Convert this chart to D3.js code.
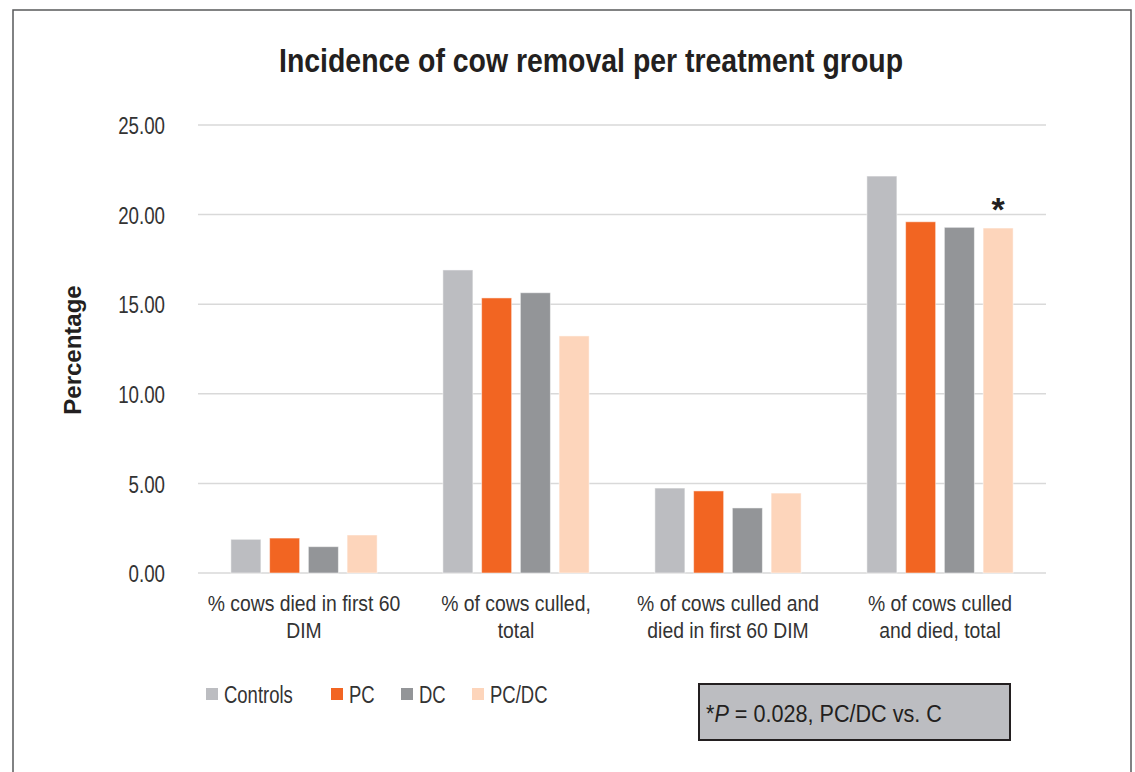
<!DOCTYPE html>
<html><head><meta charset="utf-8">
<script src="https://cdn.jsdelivr.net/npm/d3@7"></script>
<style>
body{margin:0;background:#fff;}
text{font-family:"Liberation Sans",Arial,sans-serif;}
</style></head>
<body>
<svg id="chart" width="1135" height="772"></svg>
<script>
const categories = [
  ["% cows died in first 60", "DIM"],
  ["% of cows culled,", "total"],
  ["% of cows culled and", "died in first 60 DIM"],
  ["% of cows culled", "and died, total"]
];
const seriesNames = ["Controls", "PC", "DC", "PC/DC"];
const controls = [1.88, 16.91, 4.74, 22.15];
const pc = [1.95, 15.35, 4.58, 19.60];
const dc = [1.47, 15.64, 3.63, 19.29];
const pcdc = [2.12, 13.23, 4.46, 19.25];
const yTicks = [0, 5, 10, 15, 20, 25];
const colors = ["#bcbdc1", "#f26522", "#939598", "#fdd5bb"];
const seriesValues = [controls, pc, dc, pcdc];

const svg = d3.select("#chart");
const mLeft = 198, mRight = 1046, mTop = 125, mBottom = 573;

// frame
svg.append("rect").attr("x", 13).attr("y", 10).attr("width", 1118).attr("height", 800)
  .attr("fill", "none").attr("stroke", "#58595b").attr("stroke-width", 1.5);

const x0 = d3.scaleBand().domain(d3.range(categories.length)).range([mLeft, mRight]).paddingInner(0.31).paddingOuter(0.155);
const x1 = d3.scaleBand().domain(d3.range(seriesNames.length)).range([0, x0.bandwidth()]).paddingInner(0.225);
const y = d3.scaleLinear().domain([0, 25]).range([mBottom, mTop]);

// gridlines
svg.append("g").selectAll("line").data(yTicks).join("line")
  .attr("x1", mLeft).attr("x2", mRight)
  .attr("y1", d => y(d)).attr("y2", d => y(d))
  .attr("stroke", "#d9d9d9").attr("stroke-width", 1.5);

// y axis labels
const yAxis = d3.axisLeft(y).tickValues(yTicks).tickFormat(d3.format(".2f")).tickSize(0).tickPadding(0);
const ya = svg.append("g").attr("transform", `translate(165,0)`).call(yAxis);
ya.select(".domain").remove();
ya.selectAll("text").attr("font-size", 24).attr("fill", "#333").attr("font-family", null)
  .attr("dy", "0.36em").attr("transform", "scale(0.78,1)");

// bars
const groups = svg.append("g").selectAll("g").data(categories.map((c, i) => i)).join("g")
  .attr("transform", i => `translate(${x0(i)},0)`);
groups.selectAll("rect").data(i => seriesValues.map((s, j) => ({j, v: s[i]}))).join("rect")
  .attr("x", d => x1(d.j)).attr("width", x1.bandwidth())
  .attr("y", d => y(d.v)).attr("height", d => y(0) - y(d.v))
  .attr("fill", d => colors[d.j]).attr("stroke", "#fff").attr("stroke-opacity", 0.5).attr("stroke-width", 1);

// x axis labels
const xl = svg.append("g").selectAll("text").data(categories).join("text")
  .attr("transform", (d, i) => `translate(${x0(i) + x0.bandwidth() / 2},611) scale(0.88,1)`)
  .attr("text-anchor", "middle").attr("font-size", 22).attr("fill", "#333");
xl.selectAll("tspan").data(d => d).join("tspan")
  .attr("x", 0).attr("y", (d, k) => k * 27).text(d => d);

// asterisk
svg.append("text").attr("x", x0(3) + x1(3) + x1.bandwidth() / 2).attr("y", y(pcdc[3]) - 7)
  .attr("text-anchor", "middle").attr("font-size", 34).attr("font-weight", "bold").attr("fill", "#231f20").text("*");

// title
svg.append("text").attr("x", 279).attr("y", 72)
  .attr("font-size", 34).attr("font-weight", "bold").attr("fill", "#231f20")
  .attr("textLength", 624).attr("lengthAdjust", "spacingAndGlyphs")
  .text("Incidence of cow removal per treatment group");

// y title
svg.append("text").attr("transform", "translate(81,350) rotate(-90)").attr("text-anchor", "middle")
  .attr("font-size", 24).attr("font-weight", "bold").attr("fill", "#231f20").text("Percentage");

// legend
const legX = [206, 331, 401, 472];
const leg = svg.append("g").selectAll("g").data(seriesNames).join("g")
  .attr("transform", (d, i) => `translate(${legX[i]},688)`);
leg.append("rect").attr("width", 12).attr("height", 12).attr("fill", (d, i) => colors[i]);
leg.append("text").attr("transform", "translate(18,15) scale(0.77,1)").attr("font-size", 24).attr("fill", "#333").text(d => d);

// note box
svg.append("rect").attr("x", 699).attr("y", 684).attr("width", 311).attr("height", 56)
  .attr("fill", "#bcbdc1").attr("stroke", "#231f20").attr("stroke-width", 2);
const note = svg.append("text").attr("transform", "translate(706,722) scale(0.9,1)").attr("font-size", 24).attr("fill", "#231f20");
note.append("tspan").text("*");
note.append("tspan").attr("font-style", "italic").text("P");
note.append("tspan").text(" = 0.028, PC/DC vs. C");
</script>
</body></html>
